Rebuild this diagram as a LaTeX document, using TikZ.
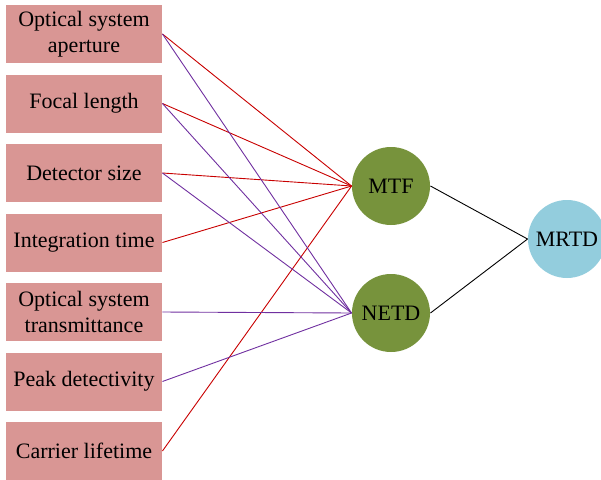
\documentclass[tikz,border=0pt]{standalone}
\usepackage{fontspec}
\setmainfont{Liberation Serif}

\definecolor{boxpink}{RGB}{217,150,148}
\definecolor{leafgreen}{RGB}{119,147,60}
\definecolor{skyblue}{RGB}{147,205,221}
\definecolor{mtfred}{RGB}{200,0,0}
\definecolor{netdpurple}{RGB}{112,48,160}

\begin{document}
\begin{tikzpicture}[x=1pt, y=-1pt, line width=0.9pt,
          param/.style={fill=boxpink, minimum width=156pt, minimum height=58pt,
            inner sep=0pt, align=center, font=\fontsize{22}{26}\selectfont},
          metric/.style={circle, fill=leafgreen, minimum size=78pt, inner sep=0pt,
            font=\fontsize{22}{26}\selectfont},
          result/.style={circle, fill=skyblue, minimum size=78pt, inner sep=0pt,
            font=\fontsize{22}{26}\selectfont},
          tomtf/.style={draw=mtfred},
          tonetd/.style={draw=netdpurple},
        ]
          \clip (0,0) rectangle (601,479);
          \useasboundingbox (0,0) rectangle (601,479);
          \node[param] (aper)  at (84, 34)    {Optical system\\aperture};
          \node[param] (focal) at (84, 103.5) {Focal length};
          \node[param] (det)   at (84, 173)   {Detector size};
          \node[param] (integ) at (84, 242.5) {Integration time};
          \node[param] (trans) at (84, 312)   {Optical system\\transmittance};
          \node[param] (peak)  at (84, 381.5) {Peak detectivity};
          \node[param] (life)  at (84, 451)   {Carrier lifetime};
          \node[metric] (mtf)  at (391, 186)  {MTF};
          \node[metric] (netd) at (391, 313)  {NETD};
          \node[result] (mrtd) at (567, 239)  {MRTD};
          \draw[tomtf] (aper.east)  -- (mtf.west);
          \draw[tomtf] (focal.east) -- (mtf.west);
          \draw[tomtf] (det.east)   -- (mtf.west);
          \draw[tomtf] (integ.east) -- (mtf.west);
          \draw[tomtf] (life.east)  -- (mtf.west);
          \draw[tonetd] (aper.east)  -- (netd.west);
          \draw[tonetd] (focal.east) -- (netd.west);
          \draw[tonetd] (det.east)   -- (netd.west);
          \draw[tonetd] (trans.east) -- (netd.west);
          \draw[tonetd] (peak.east)  -- (netd.west);
          \draw (mtf.east)  -- (mrtd.west);
          \draw (netd.east) -- (mrtd.west);
        \end{tikzpicture}
\end{document}
